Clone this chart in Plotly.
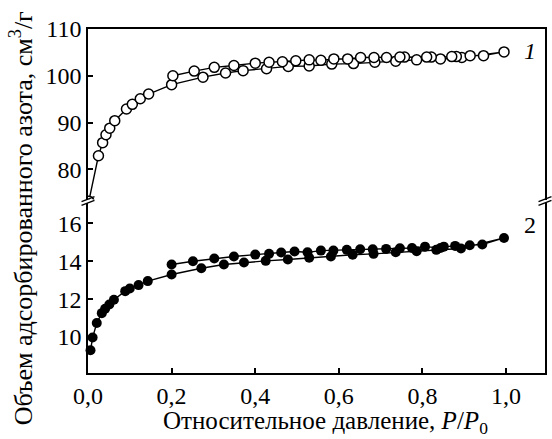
import plotly.graph_objects as go

# Sample 1 (open circles): adsorption branch then desorption branch
s1_x = [0.002, 0.025, 0.035, 0.043, 0.052, 0.064, 0.092, 0.106, 0.125, 0.145,
        0.200, 0.275, 0.329, 0.371, 0.427, 0.479, 0.529, 0.583, 0.635, 0.686,
        0.736, 0.786, 0.843, 0.894, 0.995,
        0.946, 0.914, 0.881, 0.870, 0.821, 0.810, 0.757, 0.746, 0.714, 0.684,
        0.652, 0.621, 0.588, 0.557, 0.529, 0.497, 0.465, 0.433, 0.400, 0.349,
        0.302, 0.254, 0.203]
s1_y = [73.2, 82.9, 85.7, 87.4, 88.8, 90.4, 92.9, 93.9, 95.1, 96.1,
        98.1, 99.7, 100.6, 101.1, 101.5, 102.0, 102.1, 102.5, 102.6, 102.9,
        103.1, 103.4, 103.6, 103.9, 105.1,
        104.3, 104.3, 104.1, 104.1, 104.0, 104.0, 104.0, 104.0, 103.9, 103.9,
        103.9, 103.6, 103.6, 103.3, 103.4, 103.2, 103.0, 102.9, 102.7, 102.2,
        101.8, 101.0, 100.0]

# Sample 2 (filled circles)
s2_x = [0.006, 0.011, 0.021, 0.033, 0.041, 0.051, 0.062, 0.089, 0.100, 0.121,
        0.143, 0.200, 0.271, 0.325, 0.373, 0.425, 0.478, 0.529, 0.581, 0.633,
        0.683, 0.736, 0.786, 0.833, 0.892, 0.995,
        0.943, 0.913, 0.878, 0.851, 0.843, 0.806, 0.775, 0.746, 0.713, 0.681,
        0.651, 0.619, 0.587, 0.557, 0.525, 0.494, 0.462, 0.433, 0.400, 0.349,
        0.302, 0.251, 0.200]
s2_y = [9.30, 9.97, 10.74, 11.26, 11.49, 11.72, 11.97, 12.42, 12.56, 12.74,
        12.95, 13.30, 13.63, 13.83, 13.93, 14.02, 14.09, 14.18, 14.25, 14.34,
        14.39, 14.47, 14.53, 14.60, 14.67, 15.23,
        14.88, 14.84, 14.81, 14.77, 14.70, 14.77, 14.70, 14.68, 14.65, 14.63,
        14.63, 14.60, 14.56, 14.56, 14.47, 14.51, 14.46, 14.39, 14.35, 14.25,
        14.14, 14.00, 13.83]

x_ticks = [0.0, 0.2, 0.4, 0.6, 0.8, 1.0]
x_ticklabels = ["0,0", "0,2", "0,4", "0,6", "0,8", "1,0"]
y1_ticks = [80, 90, 100, 110]
y2_ticks = [10, 12, 14, 16]

W, H = 552, 439
ML, MR, MT, MB = 88, 5, 29, 66
PW, PH = W - ML - MR, H - MT - MB

def py(p):  # pixel y -> paper y
    return (H - MB - p) / PH

def px(p):  # pixel x -> paper x
    return (p - ML) / PW

FONT = "Liberation Serif, Times New Roman, serif"
FS = 24

fig = go.Figure()
fig.add_trace(go.Scatter(x=s1_x, y=s1_y, xaxis="x2", yaxis="y2", mode="lines+markers",
                         line=dict(color="black", width=1.4),
                         marker=dict(symbol="circle", size=10, color="white",
                                     line=dict(color="black", width=1.5)),
                         cliponaxis=True, showlegend=False))
fig.add_trace(go.Scatter(x=s2_x, y=s2_y, xaxis="x", yaxis="y", mode="lines+markers",
                         line=dict(color="black", width=1.4),
                         marker=dict(symbol="circle", size=10, color="black",
                                     line=dict(color="black", width=0)),
                         cliponaxis=False, showlegend=False))

top_dom = [py(199.5), 1.0]
bot_dom = [0.0, py(202.5)]

tickfont = dict(family=FONT, size=FS, color="black")
axis_common = dict(showgrid=False, zeroline=False, showline=True, linecolor="black",
                   linewidth=1.6, ticks="inside", ticklen=5, tickwidth=1.5,
                   tickcolor="black", tickfont=tickfont)

fig.update_layout(
    width=W, height=H,
    margin=dict(l=ML, r=MR, t=MT, b=MB),
    paper_bgcolor="white", plot_bgcolor="white",
    font=dict(family=FONT, size=FS, color="black"),
    xaxis=dict(axis_common, domain=[0, 1], range=[0, 1.093], anchor="y",
               tickvals=x_ticks, ticktext=x_ticklabels, mirror=False),
    xaxis2=dict(domain=[0, 1], range=[0, 1.093], anchor="y2", side="top",
                showline=True, linecolor="black", linewidth=1.6, showticklabels=False,
                ticks="", showgrid=False, zeroline=False, matches="x"),
    yaxis=dict(axis_common, domain=bot_dom, range=[8.1, 17.1], anchor="x",
               tickvals=y2_ticks, mirror=True),
    yaxis2=dict(axis_common, domain=top_dom, range=[73.55, 110], anchor="x2",
                tickvals=y1_ticks, mirror=True),
)

# axis break marks
shapes = []
for xp in (ML, W - MR):
    for yc in (199.2, 202.8):
        shapes.append(dict(type="line", xref="paper", yref="paper",
                           x0=px(xp - 6.5), y0=py(yc + 2.5),
                           x1=px(xp + 6.5), y1=py(yc - 2.5),
                           line=dict(color="black", width=1.4)))
fig.update_layout(shapes=shapes)

fig.add_annotation(x=1.057, y=105.2, xref="x2", yref="y2", text="<i>1</i>",
                   showarrow=False, font=dict(family=FONT, size=FS, color="black"))
fig.add_annotation(x=1.057, y=15.9, xref="x", yref="y", text="2",
                   showarrow=False, font=dict(family=FONT, size=FS, color="black"))

fig.add_annotation(x=px(327), y=py(422), xref="paper", yref="paper",
                   text="Относительное давление, <i>P</i>/<i>P</i><sub>0</sub>",
                   showarrow=False, xanchor="center", yanchor="middle",
                   font=dict(family=FONT, size=25, color="black"))
fig.add_annotation(x=px(21), y=py(218), xref="paper", yref="paper",
                   text="Объем адсорбированного азота, см<sup>3</sup>/г",
                   textangle=-90, showarrow=False, xanchor="center", yanchor="middle",
                   font=dict(family=FONT, size=26, color="black"))

fig.write_html("out.html")
